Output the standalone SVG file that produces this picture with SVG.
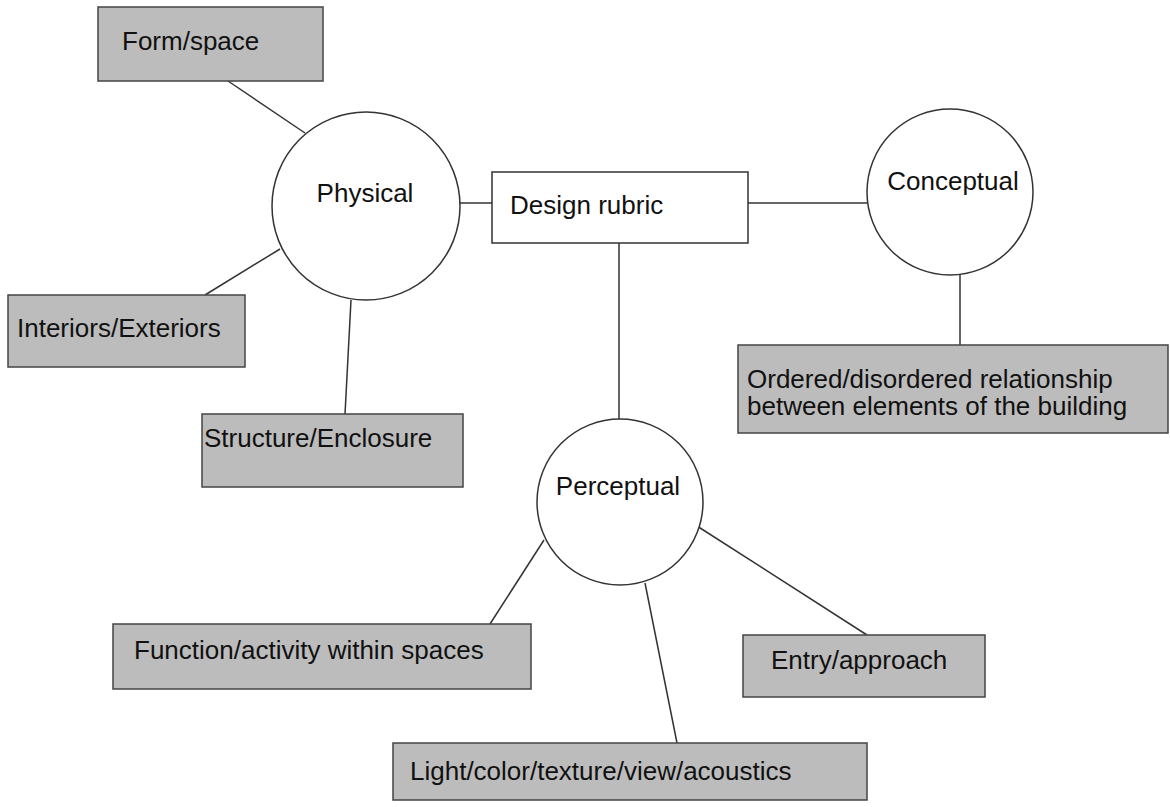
<svg xmlns="http://www.w3.org/2000/svg" width="1170" height="807" viewBox="0 0 1170 807">
<style>
  text { font-family: "Liberation Sans", Arial, Helvetica, sans-serif; font-size: 26px; fill: #111; }
  .box { fill: #bcbcbc; stroke: #444; stroke-width: 1.5; }
  .rect { fill: #fff; stroke: #333; stroke-width: 1.5; }
  .circ { fill: #fff; stroke: #333; stroke-width: 1.5; }
  .conn line { stroke: #333; stroke-width: 1.5; }
</style>
<rect width="1170" height="807" fill="#fff"/>
<g class="conn" id="connectors">
  <line x1="228" y1="81" x2="305" y2="133"/>
  <line x1="205" y1="295" x2="280" y2="249"/>
  <line x1="345" y1="414" x2="351" y2="300"/>
  <line x1="460" y1="203" x2="492" y2="203"/>
  <line x1="748" y1="203" x2="867" y2="203"/>
  <line x1="619" y1="243" x2="619" y2="419"/>
  <line x1="960" y1="274" x2="960" y2="345"/>
  <line x1="544" y1="540" x2="490" y2="624"/>
  <line x1="645" y1="583" x2="677" y2="743"/>
  <line x1="697" y1="526" x2="867" y2="635"/>
</g>
<g id="design-rubric">
  <rect class="rect" x="492" y="172" width="256" height="71"/>
  <text x="510" y="214">Design rubric</text>
</g>
<g id="physical">
  <circle class="circ" cx="366" cy="206" r="94"/>
  <text x="365" y="202" text-anchor="middle">Physical</text>
</g>
<g id="conceptual">
  <circle class="circ" cx="950" cy="192" r="83"/>
  <text x="953" y="190" text-anchor="middle">Conceptual</text>
</g>
<g id="perceptual">
  <circle class="circ" cx="620" cy="502" r="83"/>
  <text x="618" y="495" text-anchor="middle">Perceptual</text>
</g>
<g id="form-space">
  <rect class="box" x="98" y="7" width="225" height="74"/>
  <text x="122" y="50">Form/space</text>
</g>
<g id="interiors-exteriors">
  <rect class="box" x="8" y="295" width="237" height="72"/>
  <text x="17" y="337">Interiors/Exteriors</text>
</g>
<g id="structure-enclosure">
  <rect class="box" x="202" y="414" width="261" height="73"/>
  <text x="204" y="447">Structure/Enclosure</text>
</g>
<g id="ordered-disordered">
  <rect class="box" x="738" y="345" width="430" height="88"/>
  <text x="747" y="388">Ordered/disordered relationship</text>
  <text x="747" y="415">between elements of the building</text>
</g>
<g id="function-activity">
  <rect class="box" x="113" y="624" width="418" height="65"/>
  <text x="134" y="659">Function/activity within spaces</text>
</g>
<g id="entry-approach">
  <rect class="box" x="743" y="635" width="242" height="62"/>
  <text x="771" y="669">Entry/approach</text>
</g>
<g id="light-color">
  <rect class="box" x="393" y="743" width="474" height="57"/>
  <text x="410" y="780">Light/color/texture/view/acoustics</text>
</g>
</svg>
